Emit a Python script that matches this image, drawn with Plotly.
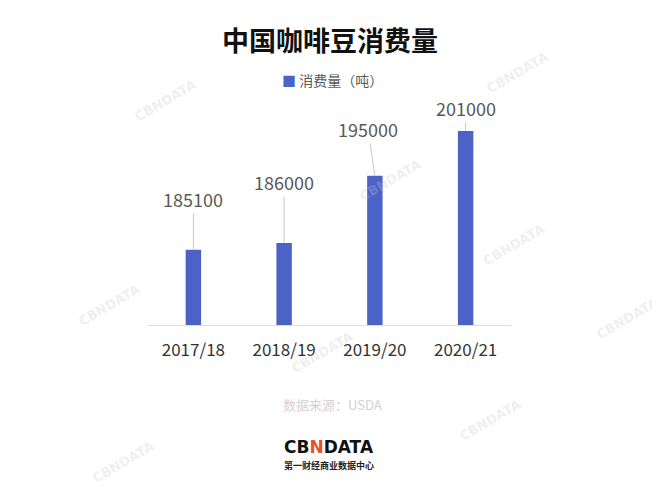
import plotly.graph_objects as go

categories = ["2017/18", "2018/19", "2019/20", "2020/21"]
values = [185100, 186000, 195000, 201000]
series_name = "消费量（吨）"
title = "中国咖啡豆消费量"
source = "数据来源：USDA"

# label offsets (pixels) for the leader-line labels
label_ax = [0, 0, -7, 0]
label_ay = [-51, -61, -47, -23]

FONT = "Noto Sans CJK SC"
BAR = "#4B63C7"

# page body adds an 8px offset; compensate
OFF = 8
W, H = 660 - OFF, 489 - OFF
L, R, T, B = 147.5 - OFF, 148.5, 100 - OFF, 164
pw, ph = W - L - R, H - T - B


def px2paper(x, y):
    x -= OFF
    y -= OFF
    return (x - L) / pw, (H - B - y) / ph


fig = go.Figure()
fig.add_trace(go.Bar(
    x=categories, y=values, name=series_name,
    marker=dict(color=BAR, line=dict(width=0)),
    width=0.17, showlegend=False,
))

annotations = []
for c, v, ax, ay in zip(categories, values, label_ax, label_ay):
    annotations.append(dict(
        x=c, y=v, xref="x", yref="y", text=str(v),
        showarrow=True, arrowhead=0, arrowwidth=1, arrowcolor="#c8c8c8",
        ax=ax, ay=ay, standoff=0,
        font=dict(family=FONT, size=18, color="#595959"),
    ))


def fixed(text, x, y, size, color, family=FONT, angle=0):
    fx, fy = px2paper(x, y)
    annotations.append(dict(
        x=fx, y=fy, xref="paper", yref="paper", xanchor="center", yanchor="middle",
        text=text, showarrow=False, textangle=angle,
        font=dict(family=family, size=size, color=color),
    ))


# watermarks
wm_pos = [(165, 100), (518, 72), (108, 305), (515, 245), (322, 352),
          (490, 420), (122, 462), (628, 318), (390, 180)]
for (px, py) in wm_pos:
    fixed("<b>CBNDATA</b>", px, py, 13, "rgba(200,200,200,0.30)", "DejaVu Sans", -30)

fixed("<b>" + title + "</b>", 330, 39, 27, "#111111")
fixed("<span style='color:%s'>■</span> %s" % (BAR, series_name), 333, 80, 14, "#595959")
fixed(source, 333, 404, 13, "#d2d2d2")
fixed("<b>CB<span style='color:#e8502a'>N</span>DATA</b>", 329, 447, 17, "#111111", "DejaVu Sans")
fixed("<b>第一财经商业数据中心</b>", 329, 465, 9, "#222222")

fig.update_layout(
    width=W, height=H,
    margin=dict(l=L, r=R, t=T, b=B, pad=0),
    paper_bgcolor="white", plot_bgcolor="white",
    showlegend=False,
    annotations=annotations,
    bargap=0.83,
    xaxis=dict(showline=True, linecolor="#dedede", linewidth=1, showgrid=False,
               ticks="", ticklabelstandoff=10,
               tickfont=dict(family=FONT, size=17, color="#333333")),
    yaxis=dict(range=[175000, 205160], visible=False, showgrid=False, zeroline=False),
)

fig.write_html("out.html")
